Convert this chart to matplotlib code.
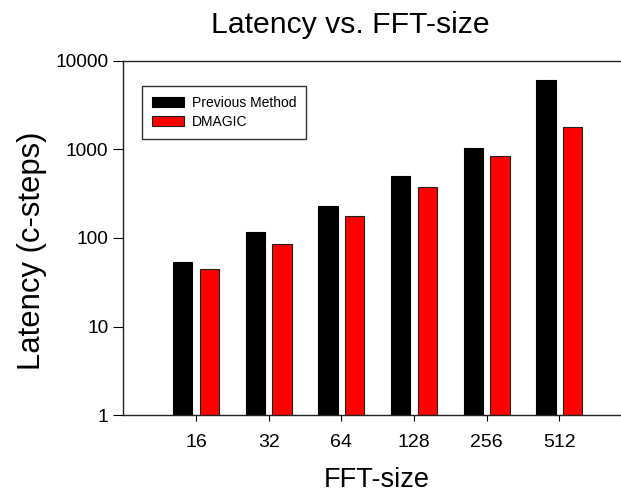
import matplotlib
matplotlib.use("Agg")
import matplotlib.pyplot as plt
from matplotlib.ticker import FixedLocator, FixedFormatter, NullLocator
import numpy as np

plt.rcParams['font.family'] = ['Liberation Sans', 'DejaVu Sans']

fft_sizes = ["16", "32", "64", "128", "256", "512"]
previous_method = [53, 116, 228, 500, 1044, 6057]
dmagic = [45, 85, 176, 376, 841, 1774]
y_ticks = [1, 10, 100, 1000, 10000]
y_tick_labels = ["1", "10", "100", "1000", "10000"]

W, H = 621, 492
fig = plt.figure(figsize=(W / 100, H / 100), dpi=100)
ax_left, ax_right, ax_top, ax_bottom = 123.3, 621.0, 60.7, 415.3
ax = fig.add_axes([ax_left / W, 1 - ax_bottom / H, (ax_right - ax_left) / W, (ax_bottom - ax_top) / H])

x = np.arange(1, len(fft_sizes) + 1)
bw = 0.266
off = 0.183
ax.bar(x - off, previous_method, width=bw, color="black", edgecolor="black", linewidth=0.8,
       label="Previous Method", zorder=2)
ax.bar(x + off, dmagic, width=bw, color="#ff0000", edgecolor="#202020", linewidth=0.8,
       label="DMAGIC", zorder=2)

ax.set_yscale("log")
ax.set_ylim(1, 10000)
ax.set_xlim(0, (ax_right - ax_left) / 72.67)
ax.yaxis.set_major_locator(FixedLocator(y_ticks))
ax.yaxis.set_major_formatter(FixedFormatter(y_tick_labels))
ax.yaxis.set_minor_locator(NullLocator())
ax.set_xticks(x)
ax.set_xticklabels(fft_sizes)

for s in ["left", "bottom", "top"]:
    ax.spines[s].set_linewidth(1.0)
    ax.spines[s].set_color("#222222")
ax.spines["right"].set_visible(False)

ax.tick_params(axis="y", direction="out", length=7.2, width=0.8, pad=3.6, labelsize=13.8, colors="black")
ax.tick_params(axis="x", direction="out", length=4.5, width=0.8, pad=9, labelsize=14, colors="black")

leg = ax.legend(loc="upper left", bbox_to_anchor=(142.3 / W, 1 - 86.3 / H), bbox_transform=fig.transFigure,
                borderaxespad=0, fontsize=10, frameon=True, fancybox=False, edgecolor="#333333",
                framealpha=1, handlelength=2.3, handleheight=0.76, handletextpad=0.55,
                labelspacing=0.35, borderpad=0.7)
leg.get_frame().set_linewidth(1.0)

fig.text(350 / W, 1 - 33.3 / H, "Latency vs. FFT-size", ha="center", va="baseline", fontsize=21.7)
fig.text(376.5 / W, 1 - 487.3 / H, "FFT-size", ha="center", va="baseline", fontsize=19.5)
fig.text(40 / W, 1 - 250.8 / H, "Latency (c-steps)", ha="center", va="baseline", rotation=90,
         fontsize=22.3, rotation_mode="anchor")

fig.savefig("out.png", dpi=100)
